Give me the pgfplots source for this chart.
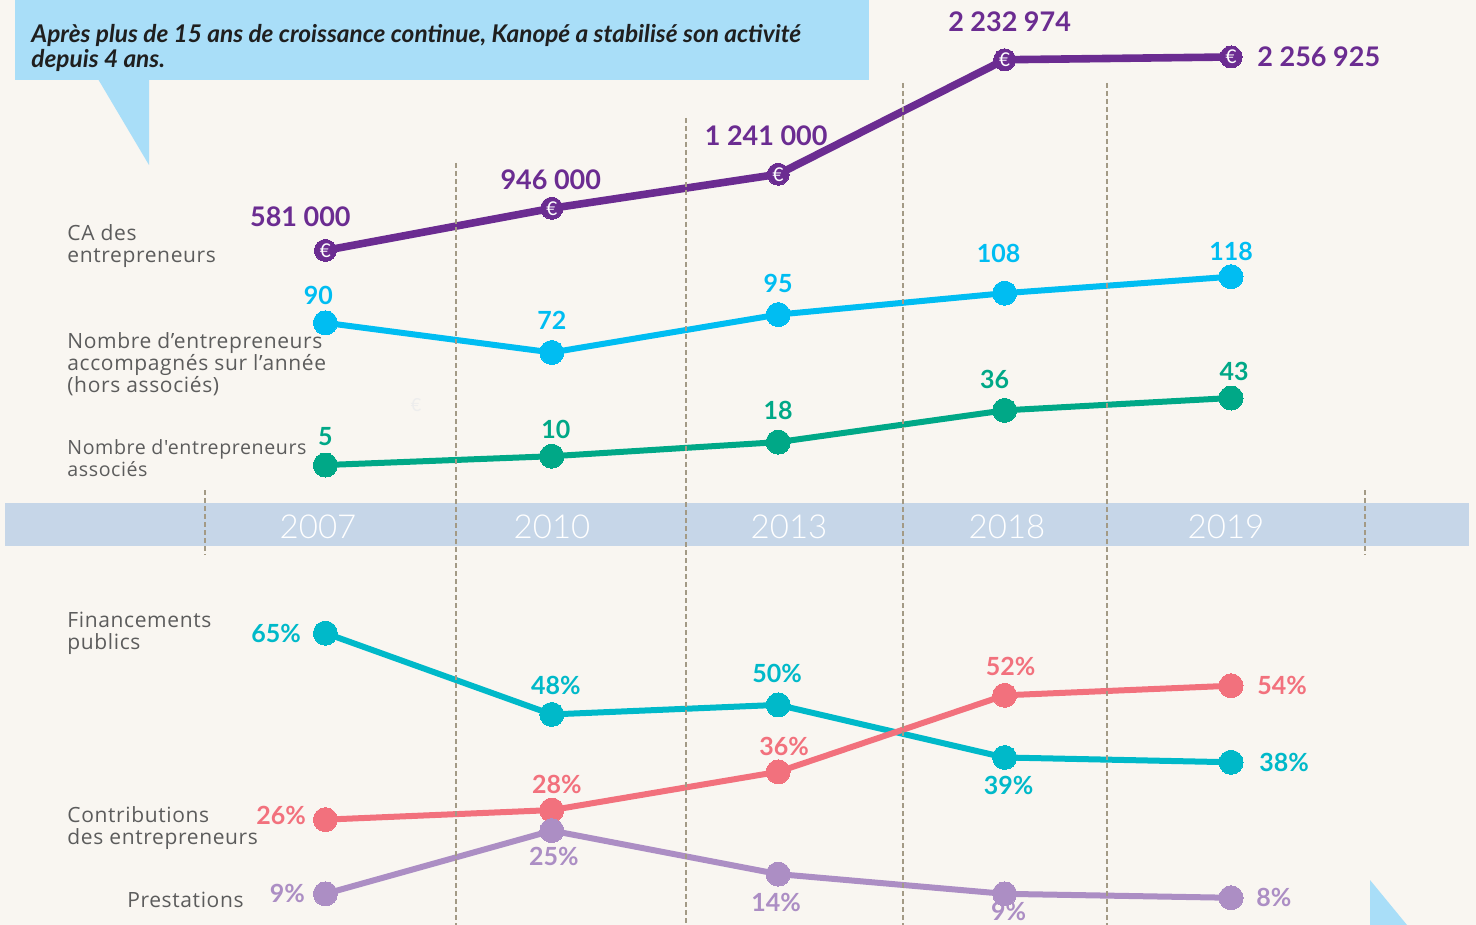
\documentclass[border=0pt]{standalone}
\usepackage{pgfplots}
\pgfplotsset{compat=1.18}
\usepackage{fontspec}
\setmainfont{Lato}
\newfontfamily\labelfont{Open Sans}[LetterSpace=3]
\newfontfamily\yearfont{Lato Light}
\definecolor{bg}{HTML}{F9F6F1}
\definecolor{callout}{HTML}{A9DEF8}
\definecolor{band}{HTML}{C6D6E8}
\definecolor{dashc}{HTML}{A39A85}
\definecolor{purp}{HTML}{6B2C91}
\definecolor{sky}{HTML}{00BDF2}
\definecolor{grn}{HTML}{00A887}
\definecolor{teal}{HTML}{00B9C9}
\definecolor{salmon}{HTML}{F2717D}
\definecolor{lav}{HTML}{AC8EC4}
\definecolor{graytxt}{HTML}{5C5C5C}
\pgfplotsset{
  baseaxis/.style={at={(0,0)}, anchor=south west, width=738pt, height=462.5pt,
    scale only axis, hide axis, clip=false},
  dataaxis/.style={baseaxis, xmin=-1.437, xmax=5.082},
}
\tikzset{
  numlab/.style={inner sep=0pt, font=\bfseries\fontsize{12.5}{13}\selectfont},
  calab/.style={inner sep=0pt, font=\bfseries\fontsize{13.5}{14}\selectfont, text=purp},
  grlab/.style={inner sep=0pt, anchor=west, align=left, text=graytxt,
    font=\labelfont\fontsize{10.5}{11}\selectfont},
  yrlab/.style={text=white, inner sep=0pt, font=\yearfont\fontsize{16.5}{17}\selectfont},
}
\begin{document}
\begin{tikzpicture}
% ---------- background and decorations ----------
\begin{axis}[baseaxis, xmin=0, xmax=1476, ymin=0, ymax=925, y dir=reverse]
  \fill[bg] (0,0) rectangle (1476,925);
  \fill[callout] (15,0) rectangle (869,80);
  \fill[callout] (98,79) -- (149,79) -- (149,165) -- cycle;
  \fill[callout] (1370,880) -- (1407,925) -- (1370,925) -- cycle;
  \fill[band] (5,503) rectangle (1469,546);
  \node[anchor=north west, align=left, inner sep=0pt, text=black!88,
        font=\bfseries\itshape\fontsize{12.2}{12.5}\selectfont] at (31,24)
    {Après plus de 15 ans de croissance continue, Kanopé a stabilisé son activité\\depuis 4 ans.};
  \node[yrlab] at (318,527) {2007};
  \node[yrlab] at (552,527) {2010};
  \node[yrlab] at (789,527) {2013};
  \node[yrlab] at (1007,527) {2018};
  \node[yrlab] at (1226,527) {2019};
  \node[grlab] at (67,246) {CA des\\entrepreneurs};
  \node[grlab] at (67,364) {Nombre d’entrepreneurs\\accompagnés sur l’année\\(hors associés)};
  \node[grlab, font=\labelfont\fontsize{9.8}{11}\selectfont] at (67,458) {Nombre d'entrepreneurs\\associés};
  \node[grlab] at (67,633) {Financements\\publics};
  \node[grlab] at (67,828) {Contributions\\des entrepreneurs};
  \node[grlab, anchor=east] at (244,900) {Prestations};
  \node[text=black!7, font=\fontsize{9}{9}\selectfont] at (416,405) {€};
\end{axis}
% ---------- CA des entrepreneurs ----------
\begin{axis}[dataaxis, ymin=-5263400, ymax=2750800]
  \addplot[purp, line width=3.8pt, mark=*, mark size=5.5pt,
    mark options={fill=purp, draw=purp, line width=0pt}]
    coordinates {(0,581000) (1,946000) (2,1241000) (3,2232974) (4,2256925)};
  \addplot[only marks, mark=text, text mark={€}, text mark as node=true,
    mark options={white},
    text mark style={text=white, font=\fontsize{9.5}{10}\selectfont, inner sep=0pt}]
    coordinates {(0,581000) (1,946000) (2,1241000) (3,2232974) (4,2256925)};
  \node[calab, xshift=-12.5pt, yshift=17pt] at (axis cs:0,581000) {581 000};
  \node[calab, xshift=-0.5pt, yshift=14.5pt] at (axis cs:1,946000) {946 000};
  \node[calab, xshift=-6pt, yshift=19pt] at (axis cs:2,1241000) {1 241 000};
  \node[calab, xshift=2.5pt, yshift=19pt] at (axis cs:3,2232974) {2 232 974};
  \node[calab, anchor=west, xshift=13pt, yshift=0pt] at (axis cs:4,2256925) {2 256 925};
\end{axis}
% ---------- Nombre d'entrepreneurs accompagnés ----------
\begin{axis}[dataaxis, ymin=-275.6, ymax=286.0]
  \addplot[sky, line width=3pt, mark=*, mark size=6pt,
    mark options={fill=sky, draw=sky, line width=0pt}]
    coordinates {(0,90) (1,72) (2,95) (3,108) (4,118)};
  \node[numlab, text=sky, xshift=-3.5pt, yshift=13.5pt] at (axis cs:0,90) {90};
  \node[numlab, text=sky, yshift=16pt] at (axis cs:1,72) {72};
  \node[numlab, text=sky, xshift=0pt, yshift=15.5pt] at (axis cs:2,95) {95};
  \node[numlab, text=sky, xshift=-3pt, yshift=20pt] at (axis cs:3,108) {108};
  \node[numlab, text=sky, yshift=12.5pt] at (axis cs:4,118) {118};
\end{axis}
% ---------- Nombre d'entrepreneurs associés ----------
\begin{axis}[dataaxis, ymin=-255.7, ymax=268.6]
  \addplot[grn, line width=3pt, mark=*, mark size=6pt,
    mark options={fill=grn, draw=grn, line width=0pt}]
    coordinates {(0,5) (1,10) (2,18) (3,36) (4,43)};
  \node[numlab, text=grn, yshift=14pt] at (axis cs:0,5) {5};
  \node[numlab, text=grn, xshift=2pt, yshift=13.5pt] at (axis cs:1,10) {10};
  \node[numlab, text=grn, yshift=16pt] at (axis cs:2,18) {18};
  \node[numlab, text=grn, xshift=-5pt, yshift=15.5pt] at (axis cs:3,36) {36};
  \node[numlab, text=grn, xshift=1.5pt, yshift=13.5pt] at (axis cs:4,43) {43};
\end{axis}
% ---------- Financements publics / Contributions ----------
\begin{axis}[dataaxis, ymin=3.97, ymax=197.4]
  \addplot[teal, line width=3pt, mark=*, mark size=6pt,
    mark options={fill=teal, draw=teal, line width=0pt}]
    coordinates {(0,65) (1,48) (2,50) (3,39) (4,38)};
  \addplot[salmon, line width=3pt, mark=*, mark size=6pt,
    mark options={fill=salmon, draw=salmon, line width=0pt}]
    coordinates {(0,26) (1,28) (2,36) (3,52) (4,54)};
  \node[numlab, text=teal, anchor=east, xshift=-12pt] at (axis cs:0,65) {65\%};
  \node[numlab, text=teal, xshift=2pt, yshift=14.5pt] at (axis cs:1,48) {48\%};
  \node[numlab, text=teal, xshift=-0.5pt, yshift=15.5pt] at (axis cs:2,50) {50\%};
  \node[numlab, text=teal, xshift=2pt, yshift=-14pt] at (axis cs:3,39) {39\%};
  \node[numlab, text=teal, anchor=west, xshift=14pt] at (axis cs:4,38) {38\%};
  \node[numlab, text=salmon, anchor=east, xshift=-9.5pt, yshift=2pt] at (axis cs:0,26) {26\%};
  \node[numlab, text=salmon, xshift=2.5pt, yshift=13pt] at (axis cs:1,28) {28\%};
  \node[numlab, text=salmon, xshift=3pt, yshift=12.5pt] at (axis cs:2,36) {36\%};
  \node[numlab, text=salmon, xshift=3pt, yshift=14.5pt] at (axis cs:3,52) {52\%};
  \node[numlab, text=salmon, anchor=west, xshift=13pt, yshift=0pt] at (axis cs:4,54) {54\%};
\end{axis}
% ---------- Prestations ----------
\begin{axis}[dataaxis, ymin=1.11, ymax=235.3]
  \addplot[lav, line width=3pt, mark=*, mark size=6pt,
    mark options={fill=lav, draw=lav, line width=0pt}]
    coordinates {(0,9) (1,25) (2,14) (3,9) (4,8)};
  \node[numlab, text=lav, anchor=east, xshift=-10pt] at (axis cs:0,9) {9\%};
  \node[numlab, text=lav, xshift=1pt, yshift=-13pt] at (axis cs:1,25) {25\%};
  \node[numlab, text=lav, xshift=-1pt, yshift=-14pt] at (axis cs:2,14) {14\%};
  \node[numlab, text=lav, xshift=2pt, yshift=-9pt] at (axis cs:3,9) {9\%};
  \node[numlab, text=lav, anchor=west, xshift=12.5pt] at (axis cs:4,8) {8\%};
\end{axis}
% ---------- dashed separators (on top) ----------
\begin{axis}[baseaxis, xmin=0, xmax=1476, ymin=0, ymax=925, y dir=reverse]
  \begin{scope}[draw=dashc, line width=0.7pt, dash pattern=on 2.5pt off 1.5pt]
    \draw (205,490) -- (205,555);
    \draw (456,163) -- (456,925);
    \draw (686,118) -- (686,925);
    \draw (903,83) -- (903,925);
    \draw (1107,83) -- (1107,925);
    \draw (1365,490) -- (1365,555);
  \end{scope}
\end{axis}
\pgfresetboundingbox
\path[use as bounding box] (0,0) rectangle (738pt,462.5pt);
\end{tikzpicture}
\end{document}
